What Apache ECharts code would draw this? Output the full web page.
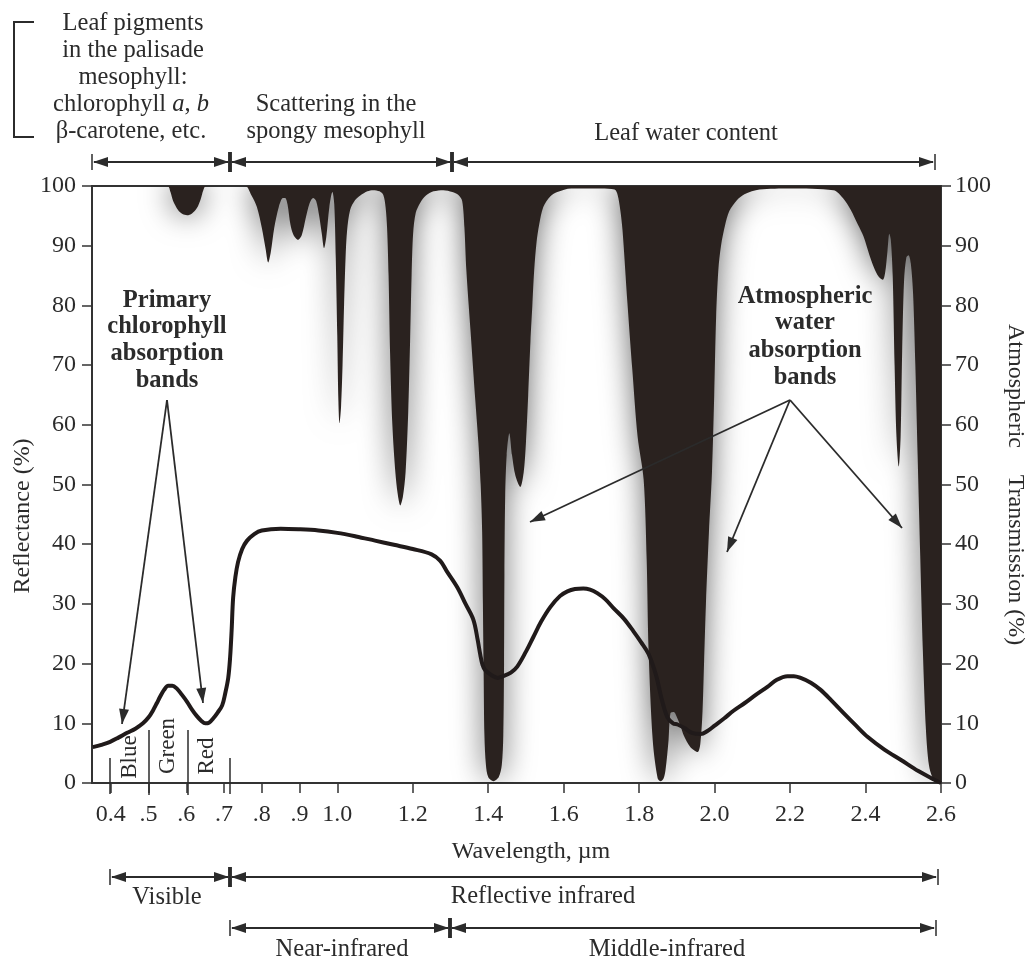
<!DOCTYPE html>
<html>
<head>
<meta charset="utf-8">
<script src="https://cdn.jsdelivr.net/npm/echarts@6/dist/echarts.min.js"></script>
<style>
  html, body { margin: 0; padding: 0; background: #fff; }
  #chart { width: 1029px; height: 963px; }
</style>
</head>
<body>
<div id="chart"></div>
<script>
// Wavelength axis ticks (µm) and the labels printed under them
const tickValues = [0.4, 0.5, 0.6, 0.7, 0.8, 0.9, 1.0, 1.2, 1.4, 1.6, 1.8, 2.0, 2.2, 2.4, 2.6];
const tickLabels = ['0.4', '.5', '.6', '.7', '.8', '.9', '1.0', '1.2', '1.4', '1.6', '1.8', '2.0', '2.2', '2.4', '2.6'];

// Atmospheric transmission (%) vs wavelength (µm)
const transmission = [
  [0.35,100],[0.55,100],[0.558,99],[0.565,97.5],[0.578,96],[0.59,95.3],[0.602,95.1],[0.615,95.4],
  [0.628,96.3],[0.638,97.8],[0.645,99.3],[0.652,100],[0.756,100],[0.772,98.5],[0.787,96.5],[0.800,93],
  [0.81,89.5],[0.817,87.2],[0.824,89],[0.833,93],[0.845,96.5],[0.856,98],[0.862,98],[0.868,97],
  [0.876,93.5],[0.884,91.8],[0.896,91],[0.906,91.8],[0.916,94.5],[0.926,97],[0.936,98],[0.944,97.5],
  [0.952,95],[0.959,92],[0.965,89.6],[0.971,91.5],[0.979,96.5],[0.987,99],[0.992,97],[0.996,88],
  [1.000,75],[1.003,64],[1.006,60.3],[1.010,63],[1.014,70],[1.018,80],[1.022,88],[1.026,92.5],
  [1.034,96],[1.047,97.6],[1.061,98.4],[1.08,99.1],[1.095,99.3],[1.112,99.1],[1.122,98.5],[1.128,96.5],
  [1.132,93],[1.136,85],[1.140,72],[1.146,60],[1.154,52],[1.16,48.5],[1.167,46.5],[1.174,48],
  [1.181,52],[1.188,62],[1.193,74],[1.197,85],[1.201,92],[1.208,95.5],[1.22,97.2],[1.235,98.4],
  [1.255,99.1],[1.281,99.3],[1.305,99],[1.321,98.5],[1.331,97.5],[1.337,93],[1.342,86],[1.353,75.9],
  [1.366,64],[1.374,57],[1.380,50],[1.384,42],[1.386,30],[1.388,18],[1.390,8],[1.394,3],
  [1.400,1],[1.414,0.3],[1.428,1],[1.436,3],[1.440,8],[1.442,20],[1.443,35],[1.445,48],
  [1.449,55],[1.456,58.6],[1.463,55],[1.472,51.5],[1.485,49.6],[1.494,52],[1.500,57],[1.506,65],
  [1.512,74],[1.517,80],[1.522,86],[1.528,90.5],[1.535,93.5],[1.546,96.5],[1.565,98.3],[1.583,99],
  [1.62,99.6],[1.70,99.6],[1.735,99.4],[1.743,98.5],[1.750,96],[1.756,92.6],[1.769,80.4],[1.782,69.2],
  [1.796,58],[1.812,50.8],[1.820,37.4],[1.825,22.3],[1.836,7.2],[1.849,0.8],[1.857,0.3],[1.865,0.8],
  [1.870,2.2],[1.878,7.2],[1.883,11.7],[1.892,11.9],[1.899,11.2],[1.910,9.5],[1.918,8],[1.936,6],
  [1.955,5.2],[1.962,6.5],[1.968,12],[1.972,20],[1.977,30],[1.985,42],[1.993,52],[1.999,65],
  [2.004,78],[2.010,86],[2.017,90],[2.028,93.5],[2.039,95.8],[2.059,97.6],[2.079,98.6],[2.119,99.4],
  [2.20,99.6],[2.315,99.3],[2.34,98],[2.361,96],[2.38,93.5],[2.395,91.5],[2.41,88.5],[2.422,86.4],
  [2.435,84.8],[2.446,84.3],[2.452,85.5],[2.458,89],[2.463,92],[2.467,91],[2.472,85],[2.477,70],
  [2.482,58],[2.488,53],[2.493,58],[2.497,72],[2.502,84],[2.508,88],[2.514,88.4],[2.52,87],
  [2.526,82],[2.532,70],[2.538,55],[2.545,38],[2.552,22],[2.560,9],[2.568,3],[2.578,0.8],
  [2.59,0],[2.6,0]
];

// Green leaf reflectance (%) vs wavelength (µm)
const reflectance = [
  [0.352,6.0],[0.375,6.4],[0.398,6.9],[0.42,7.6],[0.443,8.4],[0.465,9.1],[0.485,10.0],[0.50,11.0],
  [0.512,12.2],[0.522,13.4],[0.530,14.4],[0.541,15.6],[0.552,16.3],[0.563,16.3],[0.575,15.8],[0.588,14.8],
  [0.602,13.6],[0.615,12.3],[0.628,11.2],[0.64,10.4],[0.650,10.0],[0.66,10.1],[0.671,10.8],[0.683,11.8],
  [0.695,13.0],[0.703,15],[0.711,17.6],[0.716,21],[0.72,25.5],[0.724,31],[0.73,34.5],[0.737,37],
  [0.748,39.2],[0.761,40.6],[0.78,41.7],[0.80,42.3],[0.85,42.6],[0.90,42.5],[0.95,42.3],[1.0,41.9],
  [1.05,41.3],[1.10,40.6],[1.15,39.9],[1.20,39.2],[1.25,38.3],[1.273,37.2],[1.29,35.5],[1.318,32.8],
  [1.34,30],[1.361,27.3],[1.372,24],[1.379,21.5],[1.385,19.8],[1.392,18.9],[1.41,18],[1.425,17.6],
  [1.44,17.9],[1.46,18.5],[1.477,19.5],[1.50,22],[1.52,24.5],[1.54,27],[1.565,29.5],[1.59,31.3],
  [1.61,32.1],[1.63,32.5],[1.652,32.6],[1.67,32.4],[1.689,31.8],[1.71,30.8],[1.732,29.3],[1.76,27.5],
  [1.785,25.4],[1.805,23.6],[1.825,21.6],[1.845,18],[1.86,14],[1.875,11],[1.89,10],[1.902,9.8],
  [1.92,9.2],[1.94,8.4],[1.963,8.2],[1.981,8.7],[2.0,9.6],[2.025,10.8],[2.05,12.1],[2.08,13.4],
  [2.11,14.8],[2.14,16.1],[2.165,17.3],[2.193,17.9],[2.21,17.9],[2.228,17.6],[2.255,16.8],[2.281,15.6],
  [2.31,13.8],[2.342,11.7],[2.375,9.6],[2.406,7.7],[2.45,5.6],[2.493,3.9],[2.54,2.0],[2.581,0.6],[2.6,0]
];

const SERIF = '"Liberation Serif", "Times New Roman", serif';
const INK = '#2b2b2b';
const DARK = '#2a221f';
const NOTE = 24.5;   // annotation font size

const chart = echarts.init(document.getElementById('chart'), null, { renderer: 'canvas' });

// ---- annotation helpers (pixel layout) ----
function text(x, y, str, opts) {
  opts = opts || {};
  return {
    type: 'text', x: x, y: y, rotation: opts.rotation || 0, z: 50,
    style: {
      text: str, fill: INK, align: 'center', verticalAlign: 'middle',
      font: (opts.weight || 'normal') + ' ' + (opts.size || NOTE) + 'px ' + SERIF,
      rich: opts.rich
    }
  };
}
function line(x1, y1, x2, y2, w) {
  return { type: 'line', z: 50, shape: { x1: x1, y1: y1, x2: x2, y2: y2 },
           style: { stroke: INK, lineWidth: w || 2 } };
}
function head(x1, y1, x2, y2, len, half) {
  const a = Math.atan2(y2 - y1, x2 - x1);
  const bx = x2 - len * Math.cos(a), by = y2 - len * Math.sin(a);
  const nx = -Math.sin(a) * half, ny = Math.cos(a) * half;
  return { type: 'polygon', z: 51,
           shape: { points: [[x2, y2], [bx + nx, by + ny], [bx - nx, by - ny]] },
           style: { fill: INK } };
}
function arrow(x1, y1, x2, y2) {
  return [line(x1, y1, x2, y2, 1.8), head(x1, y1, x2, y2, 15, 5)];
}
function span(xa, xb, y, tickA, tickB) {
  const out = [line(xa + 2, y, xb - 2, y, 2),
               head(xb, y, xa + 1, y, 15, 5), head(xa, y, xb - 1, y, 15, 5)];
  out.push(line(xa, y - (tickA ? 10 : 8), xa, y + (tickA ? 10 : 8), tickA ? 3.5 : 1.5));
  out.push(line(xb, y - (tickB ? 10 : 8), xb, y + (tickB ? 10 : 8), tickB ? 3.5 : 1.5));
  return out;
}

let graphics = [];
// bracket around the pigment note
graphics.push({ type: 'polyline', z: 50, shape: { points: [[34, 22], [14, 22], [14, 137], [34, 137]] },
                style: { stroke: INK, lineWidth: 2, fill: null } });
const italicRich = { i: { font: 'italic ' + NOTE + 'px ' + SERIF, fill: INK } };
graphics.push(text(133, 24, 'Leaf pigments'));
graphics.push(text(133, 51, 'in the palisade'));
graphics.push(text(133, 78, 'mesophyll:'));
graphics.push(text(131, 105, 'chlorophyll {i|a}, {i|b}', { rich: italicRich }));
graphics.push(text(131, 132, 'β-carotene, etc.'));
graphics.push(text(336, 105, 'Scattering in the'));
graphics.push(text(336, 132, 'spongy mesophyll'));
graphics.push(text(686, 134, 'Leaf water content'));
graphics = graphics.concat(span(92, 230, 162, false, true), span(230, 452, 162, true, true),
                           span(452, 935, 162, true, false));

// bottom region spans
graphics = graphics.concat(span(110, 230, 877, false, true), span(230, 938, 877, true, false));
graphics.push(text(167, 898, 'Visible'));
graphics.push(text(543, 897, 'Reflective infrared'));
graphics = graphics.concat(span(230, 450, 928, false, true), span(450, 936, 928, true, false));
graphics.push(text(342, 950, 'Near-infrared'));
graphics.push(text(667, 950, 'Middle-infrared'));

// axis titles
graphics.push(text(531, 852, 'Wavelength, µm', { size: 24 }));
graphics.push(text(23, 516, 'Reflectance (%)', { rotation: Math.PI / 2, size: 24 }));
graphics.push(text(1015, 386, 'Atmospheric', { rotation: -Math.PI / 2, size: 24 }));
graphics.push(text(1015, 560, 'Transmission (%)', { rotation: -Math.PI / 2, size: 24 }));

// visible colour bands
graphics.push(line(110, 758, 110, 794, 1.5), line(149, 730, 149, 795, 1.5),
              line(188, 730, 188, 795, 1.5), line(230, 758, 230, 794, 1.5));
graphics.push(text(130, 757, 'Blue', { rotation: Math.PI / 2, size: 23 }));
graphics.push(text(168, 746, 'Green', { rotation: Math.PI / 2, size: 23 }));
graphics.push(text(207, 756, 'Red', { rotation: Math.PI / 2, size: 23 }));

// chlorophyll callout
[['Primary', 301], ['chlorophyll', 327], ['absorption', 354], ['bands', 381]].forEach(function (r) {
  graphics.push(text(167, r[1], r[0], { weight: 'bold', size: 24.5 }));
});
graphics = graphics.concat(arrow(167, 400, 122, 724), arrow(167, 400, 203, 703));

// atmospheric water callout
[['Atmospheric', 297], ['water', 323], ['absorption', 351], ['bands', 378]].forEach(function (r) {
  graphics.push(text(805, r[1], r[0], { weight: 'bold', size: 24.5 }));
});
graphics = graphics.concat(arrow(790, 400, 530, 522), arrow(790, 400, 727, 552), arrow(790, 400, 902, 528));

const axisLabelStyle = { fontFamily: SERIF, fontSize: 24, color: INK };

const option = {
  backgroundColor: '#ffffff',
  animation: false,
  grid: { left: 92, top: 186, right: 88, bottom: 180, show: true,
          borderColor: '#333', borderWidth: 2, backgroundColor: 'transparent' },
  xAxis: {
    type: 'value', min: 0.35, max: 2.6,
    axisLine: { lineStyle: { color: '#333', width: 2 } },
    axisTick: { customValues: tickValues, length: 10, lineStyle: { color: '#333', width: 1.5 } },
    axisLabel: Object.assign({ customValues: tickValues, margin: 20,
      formatter: function (v) {
        for (let i = 0; i < tickValues.length; i++) {
          if (Math.abs(tickValues[i] - v) < 1e-6) return tickLabels[i];
        }
        return '';
      } }, axisLabelStyle),
    splitLine: { show: false }
  },
  yAxis: [
    { type: 'value', min: 0, max: 100, interval: 10, position: 'left',
      axisLine: { show: true, lineStyle: { color: '#333', width: 2 } },
      axisTick: { show: true, length: 10, lineStyle: { color: '#333', width: 1.5 } },
      axisLabel: Object.assign({ margin: 16 }, axisLabelStyle),
      splitLine: { show: false } },
    { type: 'value', min: 0, max: 100, interval: 10, position: 'right',
      axisLine: { show: true, lineStyle: { color: '#333', width: 2 } },
      axisTick: { show: true, length: 10, lineStyle: { color: '#333', width: 1.5 } },
      axisLabel: Object.assign({ margin: 14 }, axisLabelStyle),
      splitLine: { show: false } }
  ],
  series: [
    {
      name: 'Atmospheric transmission', type: 'line', yAxisIndex: 1,
      data: transmission, showSymbol: false, smooth: 0.3, clip: true, z: 2,
      lineStyle: { width: 0 },
      areaStyle: { origin: 'end', color: DARK, opacity: 1,
                   shadowBlur: 30, shadowColor: 'rgba(0,0,0,0.6)' }
    },
    {
      name: 'Leaf reflectance', type: 'line', yAxisIndex: 0,
      data: reflectance, showSymbol: false, smooth: 0.35, clip: true, z: 3,
      lineStyle: { width: 4, color: '#201a1a' }
    }
  ],
  graphic: graphics
};

chart.setOption(option);
</script>
</body>
</html>
